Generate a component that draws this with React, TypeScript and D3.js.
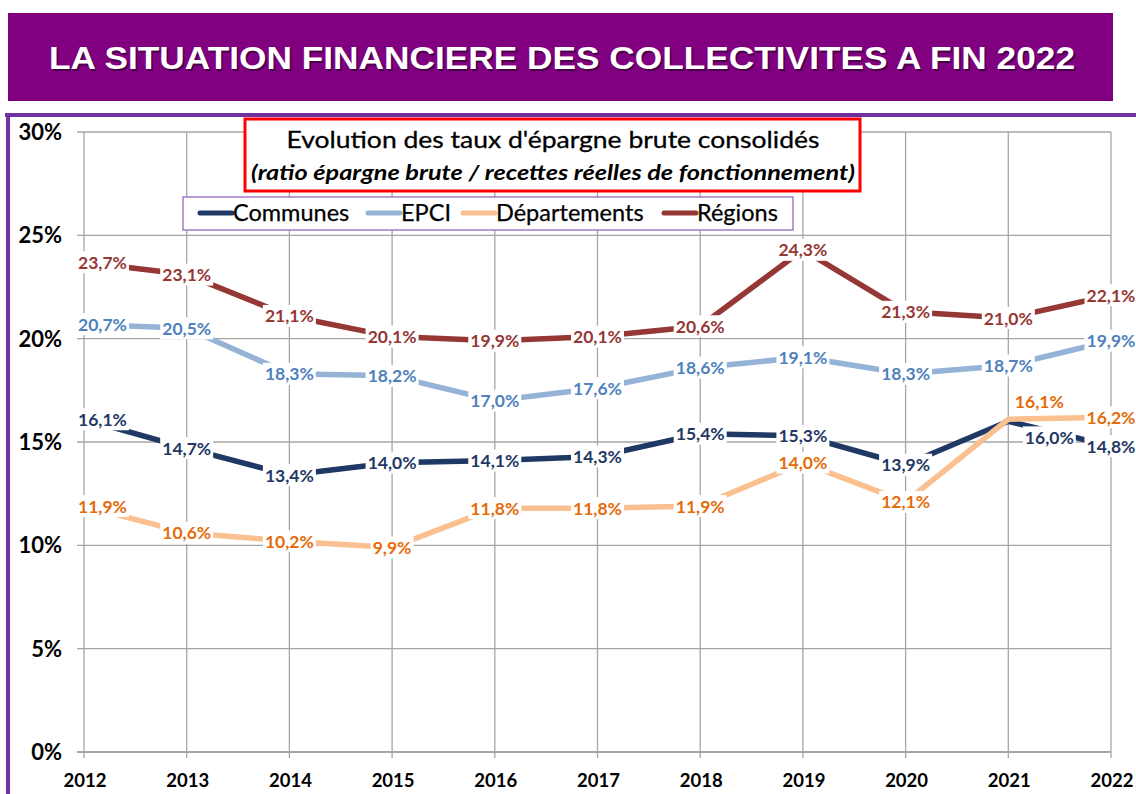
import React from 'react';
import * as d3 from 'd3';

const years = [2012, 2013, 2014, 2015, 2016, 2017, 2018, 2019, 2020, 2021, 2022];
const seriesNames = ['Communes', 'EPCI', 'Départements', 'Régions'];
const communes = [16.1, 14.7, 13.4, 14.0, 14.1, 14.3, 15.4, 15.3, 13.9, 16.0, 14.8];
const epci = [20.7, 20.5, 18.3, 18.2, 17.0, 17.6, 18.6, 19.1, 18.3, 18.7, 19.9];
const departements = [11.9, 10.6, 10.2, 9.9, 11.8, 11.8, 11.9, 14.0, 12.1, 16.1, 16.2];
const regions = [23.7, 23.1, 21.1, 20.1, 19.9, 20.1, 20.6, 24.3, 21.3, 21.0, 22.1];
const yTicks = [0, 5, 10, 15, 20, 25, 30];

const W = 1136;
const H = 794;
const FONT = 'Lato, "Open Sans", sans-serif';

const lineColors = ['#1F3864', '#95B3D7', '#FAC090', '#953735'];
const labelColors = ['#1F3864', '#4F81BD', '#E46C0A', '#953735'];

// manual nudges for labels that would overlap (series index - year)
const nudges: Record<string, [number, number]> = {
  '0-2021': [41, 16],
  '2-2021': [31, -18],
};

const fmt = (v: number) => d3.format('.1f')(v).replace('.', ',') + '%';

export default function App() {
  const x = d3.scalePoint<number>().domain(years).range([84, 1111]);
  const y = d3.scaleLinear().domain([0, 30]).range([752, 132]);
  const all = [communes, epci, departements, regions];

  const line = d3
    .line<number>()
    .x((_, i) => x(years[i]) as number)
    .y((d) => y(d));

  const legendX = [200, 368, 463, 664];

  return (
    <svg width={W} height={H} style={{ position: 'absolute', left: 0, top: 0, background: '#fff' }}>
      {/* header */}
      <rect x={8} y={13} width={1105} height={88} fill="#800080" />
      <text x={562} y={69} textAnchor="middle" fontFamily='"Liberation Sans", Arial, sans-serif'
        fontWeight="bold" fontSize={32} fill="#000" opacity={0.45} transform="translate(1.5,1.5)"
        textLength={1026} lengthAdjust="spacingAndGlyphs">
        LA SITUATION FINANCIERE DES COLLECTIVITES A FIN 2022
      </text>
      <text x={562} y={69} textAnchor="middle" fontFamily='"Liberation Sans", Arial, sans-serif'
        fontWeight="bold" fontSize={32} fill="#fff" textLength={1026} lengthAdjust="spacingAndGlyphs">
        LA SITUATION FINANCIERE DES COLLECTIVITES A FIN 2022
      </text>

      {/* frame */}
      <line x1={5} x2={W} y1={115} y2={115} stroke="#7030A0" strokeWidth={4} />
      <line x1={8} x2={8} y1={113} y2={H} stroke="#7030A0" strokeWidth={4} />

      {/* grid */}
      {yTicks.map((t) => (
        <g key={t}>
          <line x1={77} x2={1111} y1={y(t)} y2={y(t)} stroke="#A6A6A6"
            strokeWidth={t === 0 ? 2 : 1.3} />
          <text x={62} y={y(t) + 8} textAnchor="end" fontFamily={FONT} fontWeight="bold" fontSize={22} fill="#000">
            {t}%
          </text>
        </g>
      ))}
      {years.map((yr) => (
        <g key={yr}>
          <line x1={x(yr)} x2={x(yr)} y1={132} y2={758} stroke="#A6A6A6" strokeWidth={1.3} />
          <text x={(x(yr) as number) + 1} y={787} textAnchor="middle" fontFamily={FONT} fontWeight="bold"
            fontSize={18.5} fill="#000">
            {yr}
          </text>
        </g>
      ))}

      {/* title box */}
      <rect x={245} y={119} width={615} height={72} fill="#fff" stroke="#FF0000" strokeWidth={3} />
      <text x={553} y={148} textAnchor="middle" fontFamily={FONT} fontSize={23.5} fill="#000"
        stroke="#000" strokeWidth={0.3} textLength={533} lengthAdjust="spacingAndGlyphs">
        Evolution des taux d'épargne brute consolidés
      </text>
      <text x={553} y={180} textAnchor="middle" fontFamily={FONT} fontStyle="italic" fontWeight="bold"
        fontSize={21} fill="#000" textLength={604} lengthAdjust="spacingAndGlyphs">
        (ratio épargne brute / recettes réelles de fonctionnement)
      </text>

      {/* legend */}
      <rect x={183} y={197} width={610} height={33} fill="#fff" stroke="#8B5DB8" strokeWidth={1.2} />
      {seriesNames.map((n, i) => (
        <g key={n}>
          <line x1={legendX[i]} x2={legendX[i] + 32} y1={213} y2={213} stroke={lineColors[i]}
            strokeWidth={5} strokeLinecap="round" />
          <text x={legendX[i] + 33} y={221} fontFamily={FONT} fontSize={23.5} fill="#000"
            stroke="#000" strokeWidth={0.25}>
            {n}
          </text>
        </g>
      ))}

      {/* lines */}
      {all.map((vals, i) => (
        <path key={i} d={line(vals) as string} fill="none" stroke={lineColors[i]} strokeWidth={5.5}
          strokeLinejoin="round" />
      ))}

      {/* data labels */}
      {all.map((vals, i) =>
        vals.map((v, j) => {
          const s = fmt(v);
          const w = s.length * 9.8;
          let cx = x(years[j]) as number;
          let cy = y(v);
          const n = nudges[`${i}-${years[j]}`];
          if (n) {
            cx += n[0];
            cy += n[1];
          }
          cx = Math.max(cx, 78 + w / 2);
          return (
            <g key={`${i}-${j}`}>
              <rect x={cx - w / 2 - 2} y={cy - 11} width={w + 4} height={22} fill="#fff" />
              <text x={cx} y={cy + 6.5} textAnchor="middle" fontFamily={FONT} fontWeight="bold" fontSize={17.5}
                fill={labelColors[i]}>
                {s}
              </text>
            </g>
          );
        })
      )}
    </svg>
  );
}
